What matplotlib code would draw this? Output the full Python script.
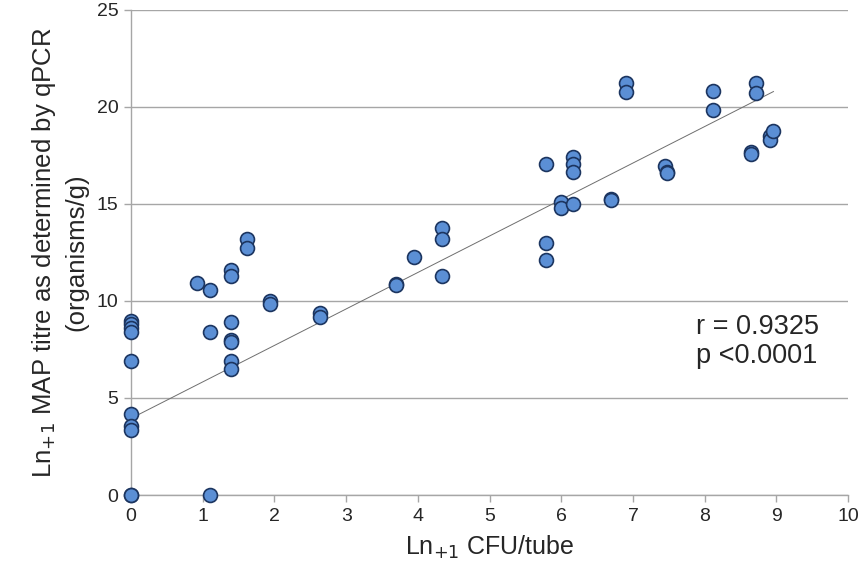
import matplotlib.pyplot as plt
import numpy as np

# values: Ln+1 CFU/tube vs Ln+1 MAP titre (qPCR)
cfu = [0, 0, 0, 0, 0, 0, 0, 0, 0, 0,
       0.92, 1.10, 1.10, 1.10,
       1.39, 1.39, 1.39, 1.39, 1.39, 1.39, 1.39,
       1.62, 1.62, 1.94, 1.94, 2.64, 2.64,
       3.69, 3.69, 3.94, 4.33, 4.33, 4.33,
       5.79, 5.79, 5.79, 5.99, 5.99,
       6.16, 6.16, 6.16, 6.16, 6.69, 6.69, 6.91, 6.91,
       7.45, 7.48, 7.48, 8.12, 8.12, 8.64, 8.64,
       8.71, 8.71, 8.91, 8.91, 8.96]
qpcr = [8.95, 8.8, 8.6, 8.4, 6.9, 4.17, 3.56, 3.35, 0, 0,
        10.91, 10.55, 8.42, 0,
        11.58, 11.3, 8.93, 7.99, 7.9, 6.9, 6.48,
        13.2, 12.72, 10.0, 9.85, 9.38, 9.15,
        10.88, 10.8, 12.25, 13.76, 13.2, 11.27,
        17.06, 12.99, 12.13, 15.12, 14.78,
        17.4, 17.04, 16.67, 14.98, 15.27, 15.18, 21.26, 20.75,
        16.97, 16.67, 16.6, 20.84, 19.83, 17.66, 17.58,
        21.22, 20.71, 18.5, 18.3, 18.75]

# trendline as drawn in the figure
fit_intercept = 3.95
fit_slope = 1.88
stats_text = "r = 0.9325\np <0.0001"

plt.rcParams['font.family'] = ['Liberation Sans', 'DejaVu Sans']
txt_color = '#262626'

fig = plt.figure(figsize=(8.68, 5.72), dpi=100)
ax = fig.add_axes([0.151, 0.1346, 0.826, 0.848])

ax.set_xlim(0, 10)
ax.set_ylim(0, 25)
ax.set_xticks(np.arange(0, 11, 1))
ax.set_yticks(np.arange(0, 26, 5))
ax.yaxis.grid(True, color='#a6a6a6', linewidth=1)
ax.set_axisbelow(True)

for side in ['top', 'right']:
    ax.spines[side].set_visible(False)
for side in ['left', 'bottom']:
    ax.spines[side].set_color('#a6a6a6')
    ax.spines[side].set_linewidth(1)
ax.tick_params(colors='#a6a6a6', labelcolor=txt_color, labelsize=14,
               length=5, width=1, pad=4)

line_x = np.array([0, max(cfu)])
ax.plot(line_x, fit_intercept + fit_slope * line_x, color='#6e6e6e',
        linewidth=0.7, zorder=2)

ax.scatter(cfu, qpcr, s=100, facecolor='#5b8fd5', edgecolor='#1c3560',
           linewidth=1.2, zorder=3, clip_on=False)

ax.text(7.88, 9.35, stats_text, fontsize=19.5, color=txt_color,
        va='top', ha='left', linespacing=1.15)

ax.set_xlabel("Ln$_{+1}$ CFU/tube", fontsize=18, color=txt_color, labelpad=7)
ax.set_ylabel("Ln$_{+1}$ MAP titre as determined by qPCR\n(organisms/g)",
              fontsize=18.5, color=txt_color, labelpad=6, linespacing=1.35)

plt.savefig("out.png", dpi=100)
